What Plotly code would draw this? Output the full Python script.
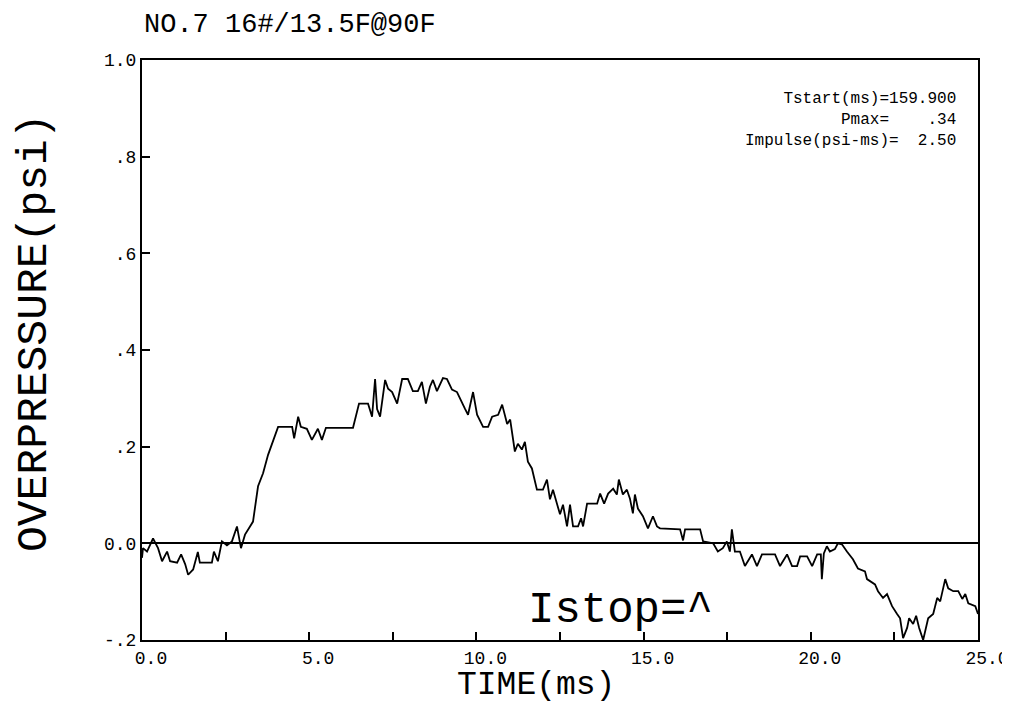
import plotly.graph_objects as go

time_ms = [
    0.00, 0.03, 0.15, 0.33, 0.48, 0.60, 0.75, 0.84, 1.05, 1.17, 1.29, 1.38, 1.53, 1.67, 1.73,
    2.09, 2.15, 2.27, 2.39, 2.54, 2.69, 2.84, 2.96, 3.08, 3.23, 3.32, 3.47, 3.62, 3.77, 3.92,
    4.07, 4.49, 4.55, 4.67, 4.75, 4.93, 5.08, 5.26, 5.38, 5.50, 6.31, 6.49, 6.76, 6.88, 6.97,
    7.03, 7.12, 7.27, 7.36, 7.48, 7.63, 7.78, 7.95, 8.10, 8.25, 8.37, 8.49, 8.61, 8.70, 8.82,
    9.00, 9.12, 9.27, 9.42, 9.57, 9.66, 9.75, 9.90, 10.02, 10.20, 10.35, 10.47, 10.65, 10.77,
    10.92, 11.01, 11.15, 11.24, 11.36, 11.45, 11.54, 11.66, 11.81, 11.99, 12.11, 12.20, 12.29,
    12.50, 12.59, 12.71, 12.80, 12.89, 13.04, 13.13, 13.19, 13.31, 13.61, 13.70, 13.82, 13.94,
    14.09, 14.20, 14.26, 14.38, 14.50, 14.59, 14.68, 14.74, 14.83, 14.98, 15.13, 15.28, 15.40,
    15.49, 16.09, 16.18, 16.24, 16.69, 16.78, 17.08, 17.22, 17.37, 17.49, 17.58, 17.64, 17.73,
    17.88, 18.03, 18.24, 18.39, 18.54, 18.93, 19.08, 19.29, 19.44, 19.59, 19.68, 19.89, 20.04,
    20.19, 20.30, 20.33, 20.39, 20.48, 20.57, 20.72, 20.81, 20.93, 21.08, 21.26, 21.41, 21.62,
    21.68, 21.92, 22.01, 22.16, 22.28, 22.43, 22.58, 22.67, 22.76, 22.88, 22.94, 23.06, 23.15,
    23.24, 23.36, 23.51, 23.66, 23.78, 23.87, 24.02, 24.11, 24.26, 24.41, 24.53, 24.62, 24.71,
    24.92, 25.00,
]
pressure_psi = [
    -0.030, -0.010, -0.017, 0.010, -0.010, -0.037, -0.017, -0.037, -0.040, -0.023, -0.043, -0.065, -0.054, -0.018, -0.040,
    -0.040, -0.017, -0.037, 0.004, -0.004, 0.004, 0.035, -0.010, 0.018, 0.035, 0.045, 0.118, 0.145, 0.183, 0.214,
    0.241, 0.241, 0.217, 0.262, 0.241, 0.237, 0.214, 0.237, 0.214, 0.239, 0.239, 0.289, 0.289, 0.262, 0.340,
    0.278, 0.262, 0.338, 0.320, 0.313, 0.289, 0.340, 0.340, 0.315, 0.315, 0.334, 0.289, 0.324, 0.338, 0.315,
    0.342, 0.340, 0.318, 0.313, 0.289, 0.278, 0.266, 0.313, 0.266, 0.241, 0.241, 0.262, 0.266, 0.287,
    0.247, 0.256, 0.190, 0.206, 0.194, 0.210, 0.169, 0.155, 0.111, 0.111, 0.132, 0.091, 0.111,
    0.060, 0.080, 0.035, 0.080, 0.035, 0.035, 0.052, 0.035, 0.082, 0.082, 0.103, 0.082, 0.103,
    0.113, 0.101, 0.132, 0.101, 0.111, 0.093, 0.062, 0.101, 0.072, 0.056, 0.031, 0.056, 0.035,
    0.031, 0.029, 0.006, 0.029, 0.029, 0.004, 0.000, -0.017, -0.010, 0.004, -0.017, 0.029, -0.017,
    -0.017, -0.047, -0.023, -0.047, -0.023, -0.023, -0.047, -0.023, -0.047, -0.047, -0.027, -0.027, -0.047,
    -0.023, -0.023, -0.074, -0.021, -0.006, -0.017, -0.012, 0.000, -0.002, -0.017, -0.033, -0.052, -0.058,
    -0.074, -0.085, -0.099, -0.113, -0.105, -0.130, -0.146, -0.155, -0.196, -0.175, -0.155, -0.167, -0.150,
    -0.175, -0.200, -0.155, -0.146, -0.113, -0.120, -0.074, -0.093, -0.099, -0.099, -0.115, -0.105, -0.124,
    -0.130, -0.146,
]

x_tickvals = [0, 5, 10, 15, 20, 25]
x_ticktext = ["0.0", "5.0", "10.0", "15.0", "20.0", "25.0"]
y_tickvals = [-0.2, 0, 0.2, 0.4, 0.6, 0.8, 1.0]
y_ticktext = ["-.2", "0.0", ".2", ".4", ".6", ".8", "1.0"]

info_lines = ["Tstart(ms)=159.900", "Pmax=    .34", "Impulse(psi-ms)=  2.50"]

MONO = "Liberation Mono, DejaVu Sans Mono, monospace"

fig = go.Figure()
fig.add_trace(
    go.Scatter(
        x=time_ms,
        y=pressure_psi,
        mode="lines",
        line=dict(color="black", width=1.8),
        showlegend=False,
        hoverinfo="skip",
    )
)

axis_common = dict(
    showgrid=False,
    showline=True,
    linecolor="black",
    linewidth=2,
    mirror=True,
    ticks="inside",
    tickcolor="black",
    tickwidth=1.5,
    ticklen=8,
    automargin=False,
    tickfont=dict(family=MONO, size=18, color="black"),
)

fig.update_xaxes(
    range=[0, 25],
    tickvals=x_tickvals,
    ticktext=x_ticktext,
    ticklabelshift=9,
    ticklabeloverflow="allow",
    minor=dict(dtick=2.5, ticks="inside", ticklen=8, tickcolor="black", tickwidth=1.5),
    zeroline=False,
    **axis_common,
)
fig.update_yaxes(
    range=[-0.2, 1.0],
    tickvals=y_tickvals,
    ticktext=y_ticktext,
    zeroline=True,
    zerolinecolor="black",
    zerolinewidth=2,
    **axis_common,
)

info_text = "<br>".join(s.replace(" ", "&nbsp;") for s in info_lines)

annotations = [
    dict(text="NO.7 16#/13.5F@90F", xref="paper", yref="paper", x=0.0, y=1.0897,
         xanchor="left", yanchor="top", showarrow=False,
         font=dict(family=MONO, size=27, color="black")),
    dict(text="OVERPRESSURE(psi)", xref="paper", yref="paper", x=-0.1603, y=0.53,
         xanchor="left", yanchor="middle", textangle=-90, showarrow=False,
         font=dict(family=MONO, size=43, color="black")),
    dict(text="TIME(ms)", xref="paper", yref="paper", x=0.471, y=-0.1138,
         xanchor="center", yanchor="bottom", showarrow=False,
         font=dict(family=MONO, size=33, color="black")),
    dict(text="Istop=^", x=14.3, y=-0.138, xanchor="center", yanchor="middle",
         showarrow=False, font=dict(family=MONO, size=44, color="black")),
    dict(text=info_text, x=24.4, y=0.876, xanchor="right", yanchor="middle", align="right",
         showarrow=False, font=dict(family=MONO, size=16, color="black")),
]

# the page body adds an 8 px margin, so the figure is sized to fit inside the window
fig.update_layout(
    width=1002,
    height=698,
    paper_bgcolor="white",
    plot_bgcolor="white",
    margin=dict(l=134, r=32, t=52, b=66),
    annotations=annotations,
)

fig.write_html("out.html")
